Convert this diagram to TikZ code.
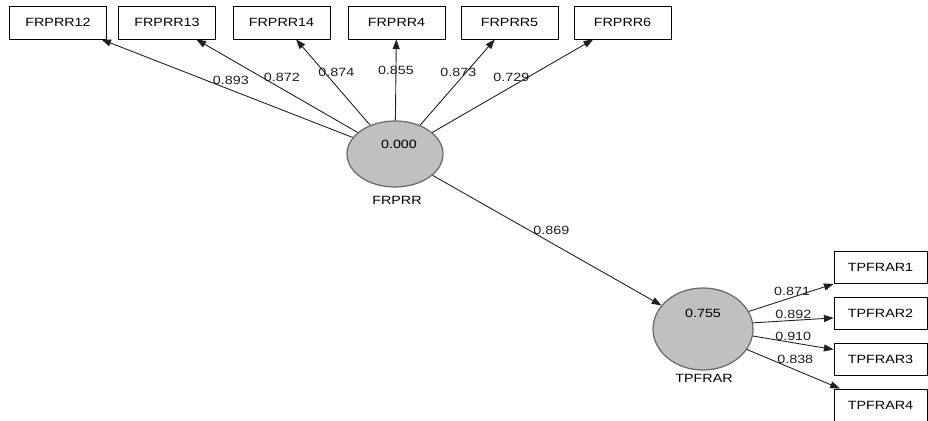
\documentclass[tikz,border=0pt]{standalone}
\usepackage{fontspec}
\setmainfont[FakeStretch=1.2]{Liberation Sans}
\usetikzlibrary{arrows.meta,shapes.geometric,positioning}
\definecolor{latentfill}{RGB}{192,192,192}
\definecolor{latentdraw}{RGB}{105,105,105}
\definecolor{pathcolor}{RGB}{30,30,30}

\begin{document}
\begin{tikzpicture}[
        x=0.02cm, y=-0.02cm,
        font=\fontsize{6.8}{8}\selectfont,
        item/.style={rectangle, draw=black, line width=0.5pt, fill=white, minimum width=1.94cm, minimum height=0.66cm, inner sep=1pt},
        construct/.style={ellipse, draw=latentdraw, line width=0.7pt, fill=latentfill, minimum width=1.92cm, minimum height=1.32cm, inner sep=0pt},
        arrow/.style={-{Triangle[length=5.5pt,width=4pt]}, line width=0.5pt, pathcolor},
        coef/.style={inner sep=1pt}
    ]
        \useasboundingbox (0,0) rectangle (928,421);

        % indicators of FRPRR
        \node[item] (frprr12) at (58,22.5) {FRPRR12};
        \node[item] (frprr13) at (167,22.5) {FRPRR13};
        \node[item] (frprr14) at (281.5,22.5) {FRPRR14};
        \node[item] (frprr4) at (396.5,22.5) {FRPRR4};
        \node[item] (frprr5) at (509.5,22.5) {FRPRR5};
        \node[item] (frprr6) at (622.5,22.5) {FRPRR6};

        % indicators of TPFRAR
        \node[item, minimum width=1.86cm, minimum height=0.64cm] (tpfrar1) at (880.5,267.5) {TPFRAR1};
        \node[item, minimum width=1.86cm, minimum height=0.64cm] (tpfrar2) at (880.5,313) {TPFRAR2};
        \node[item, minimum width=1.86cm, minimum height=0.64cm] (tpfrar3) at (880.5,359.5) {TPFRAR3};
        \node[item, minimum width=1.86cm, minimum height=0.64cm] (tpfrar4) at (880.5,405) {TPFRAR4};

        % latent variables
        \node[construct] (frprr) at (395,154) {};
        \node[coef] (frprrval) at (399,144) {0.000};
        \node[coef] (frprrname) at (397,200) {FRPRR};

        \node[construct, minimum width=2cm, minimum height=1.64cm] (tpfrar) at (703,329) {};
        \node[coef] (tpfrarval) at (703,313) {0.755};
        \node[coef] (tpfrarname) at (704,378) {TPFRAR};

        % outer loadings
        \draw[arrow] (frprr) -- node[coef, pos=0.585, anchor=west, xshift=0.1cm] {0.893} (frprr12);
        \draw[arrow] (frprr) -- node[coef, pos=0.595, anchor=west] {0.872} (frprr13);
        \draw[arrow] (frprr) -- node[coef, pos=0.619, anchor=west, xshift=-0.16cm] {0.874} (frprr14);
        \draw[arrow] (frprr) -- node[coef, pos=0.622] {0.855} (frprr4);
        \draw[arrow] (frprr) -- node[coef, pos=0.619, xshift=-0.16cm] {0.873} (frprr5);
        \draw[arrow] (frprr) -- node[coef, pos=0.595, anchor=east, xshift=0.07cm] {0.729} (frprr6);

        \draw[arrow] (tpfrar.21) -- node[coef, pos=0.51, above] {0.871} (tpfrar1.south west);
        \draw[arrow] (tpfrar.7) -- node[coef, pos=0.5, above] {0.892} (tpfrar2.186);
        \draw[arrow] (tpfrar.-8) -- node[coef, pos=0.5, above] {0.910} (tpfrar3.168);
        \draw[arrow] (tpfrar.-25) -- node[coef, pos=0.52, above, yshift=0.08cm] {0.838} (tpfrar4.158);

        % path coefficient
        \draw[arrow] (frprr) -- node[coef, pos=0.42, anchor=west, xshift=0.05cm] {0.869} (tpfrar);
    \end{tikzpicture}
\end{document}
